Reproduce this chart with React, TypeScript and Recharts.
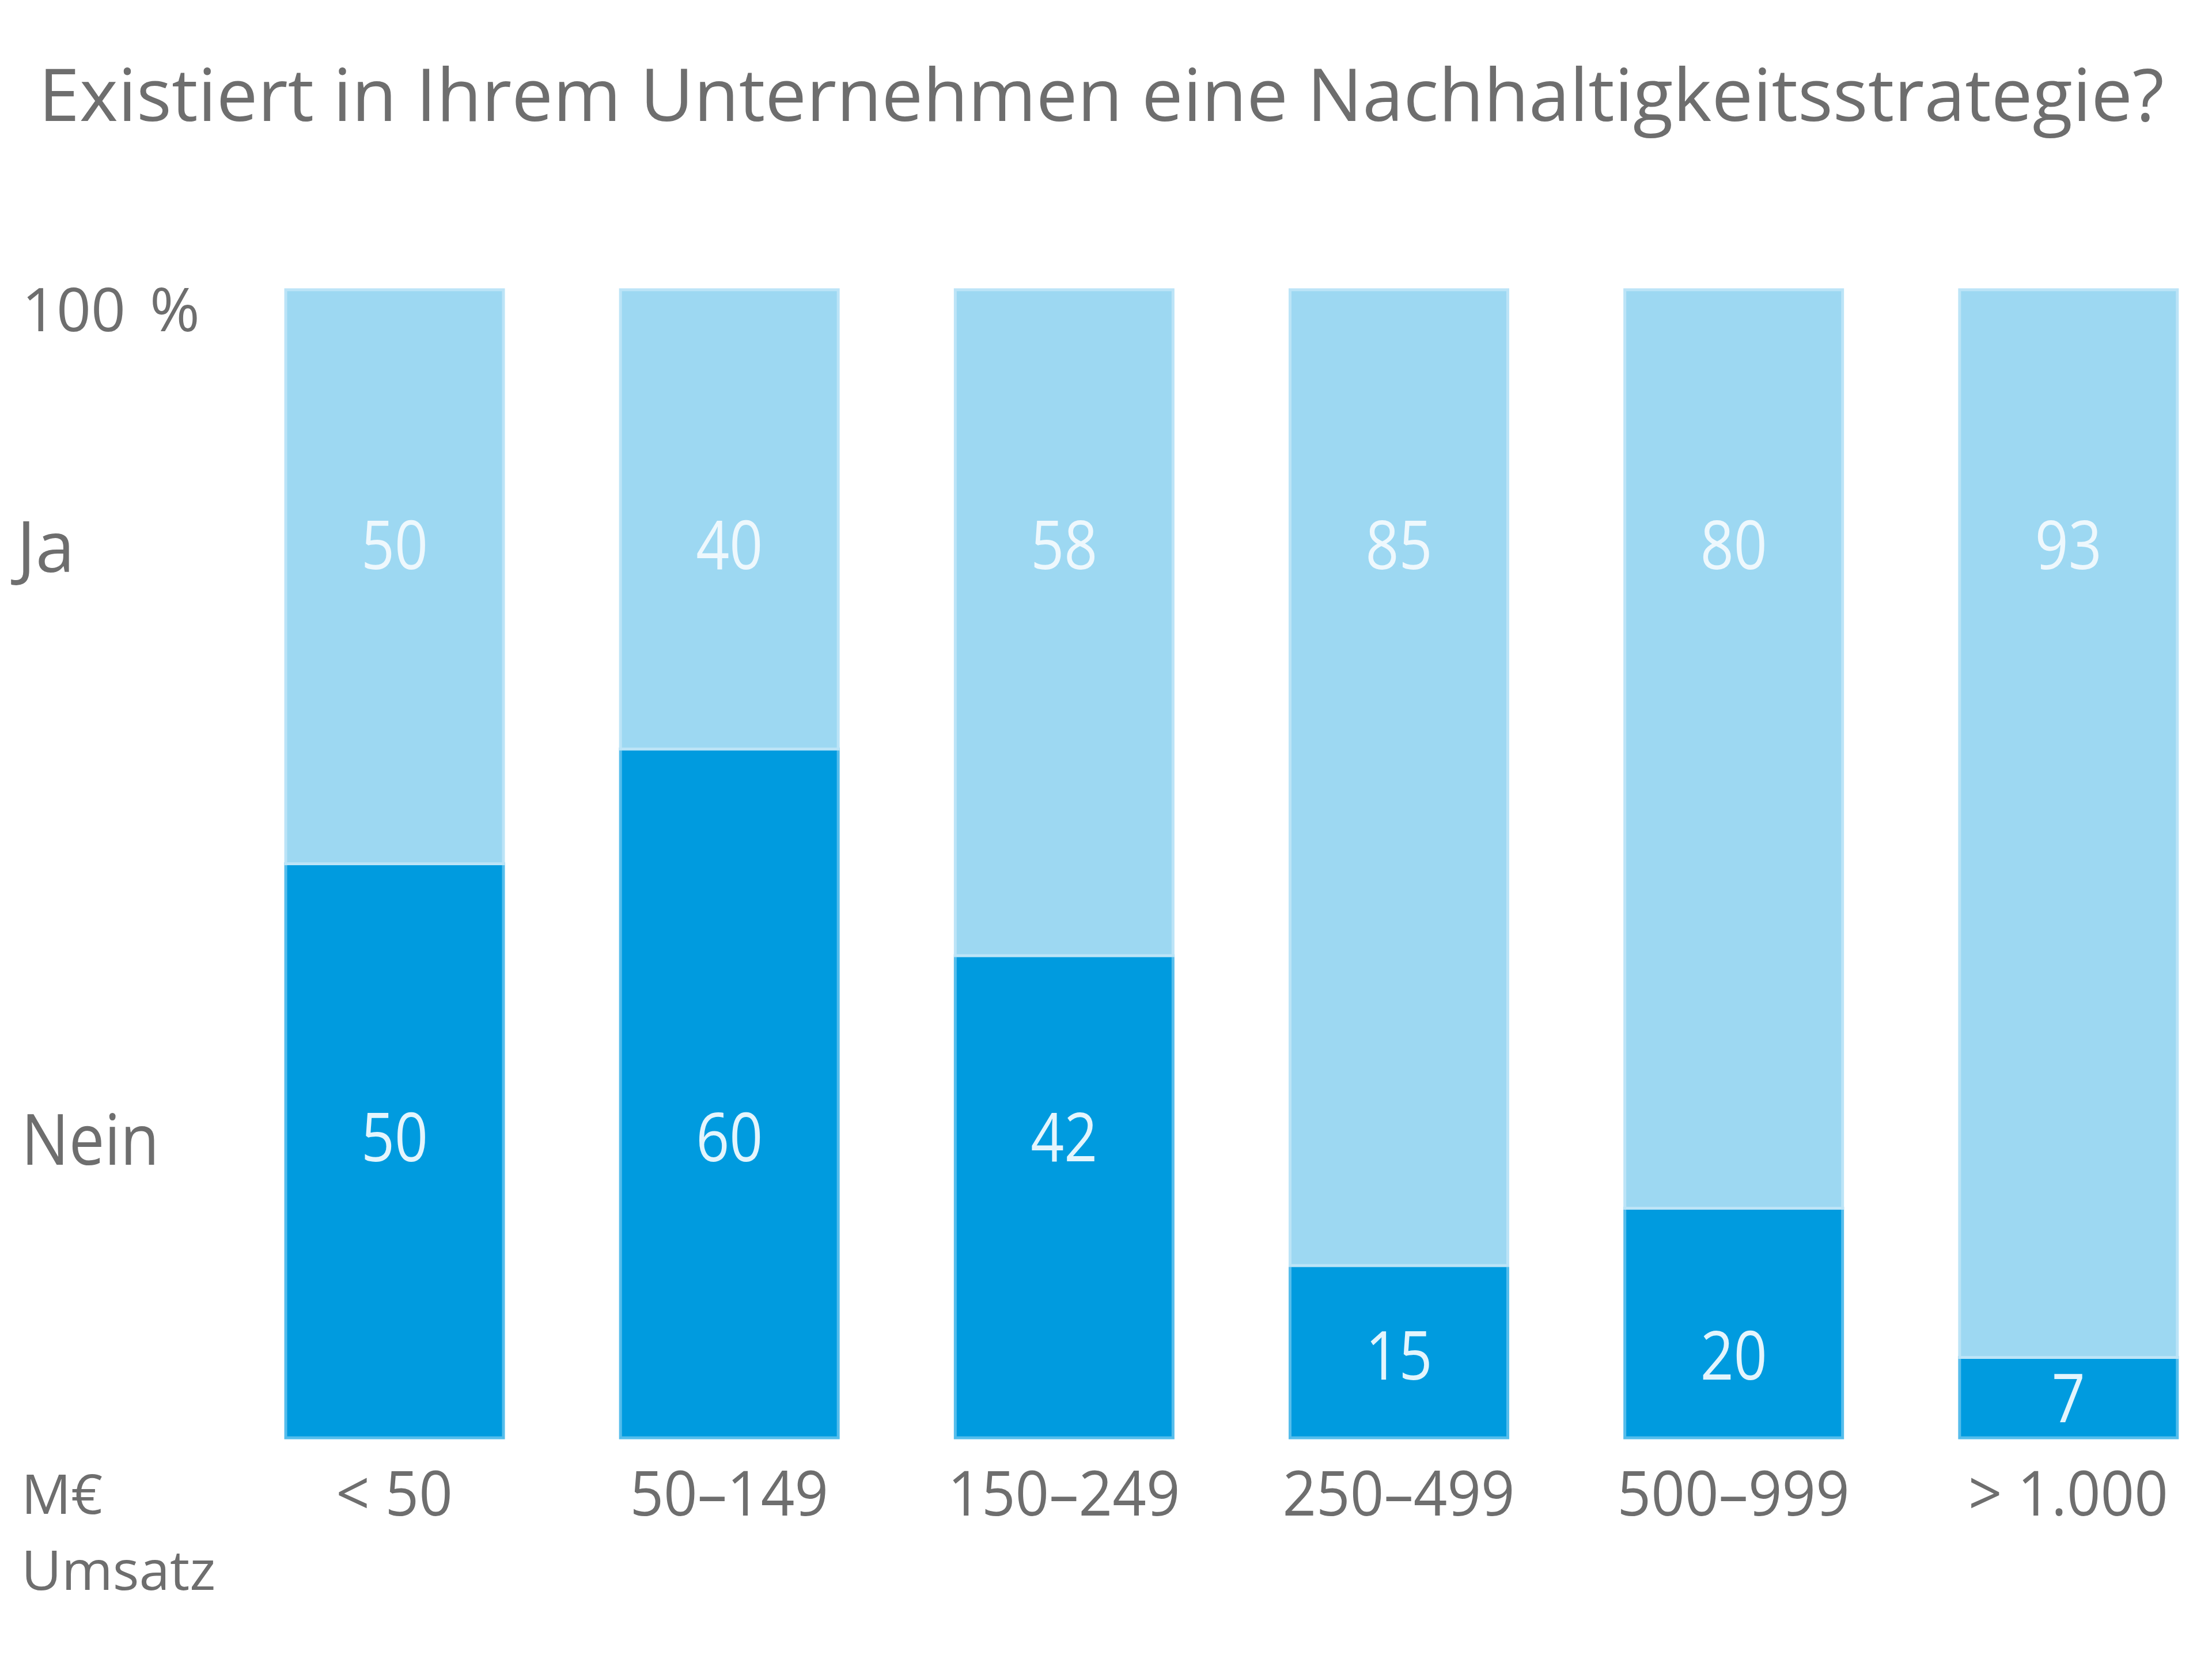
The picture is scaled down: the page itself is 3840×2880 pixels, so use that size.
import React from 'react';
import { BarChart, Bar, XAxis, YAxis, LabelList, Customized } from 'recharts';

// ---- data ----
const categories = ['< 50', '50–149', '150–249', '250–499', '500–999', '> 1.000'];
const neinValues = [50, 60, 42, 15, 20, 7];
const jaValues = [50, 40, 58, 85, 80, 93];
const seriesNames = ['Nein', 'Ja'];
const yTopLabel = ['100', '%'];
const unitLabels = ['M€', 'Umsatz'];
const titleText = 'Existiert in Ihrem Unternehmen eine Nachhaltigkeitsstrategie?';

const data = categories.map((c, i) => ({ category: c, nein: neinValues[i], ja: jaValues[i] }));

// ---- layout ----
const W = 3900;
const H = 2864;
const M = { top: 495, right: 27, bottom: 176, left: 386 };
const XAXIS_H = 200;
const PLOT_BOTTOM = H - M.bottom - XAXIS_H;

const FONT = "'Open Sans', 'Noto Sans', sans-serif";
const TEXT = '#6e6e6e';
const DARK = '#009bdf';
const LIGHT = '#9dd8f2';

type CTextProps = {
  x: number; y: number; sx?: number; size: number; fill?: string;
  anchor?: 'start' | 'middle' | 'end'; dy?: string; children: React.ReactNode;
};

const CText = ({ x, y, sx = 1, size, fill = TEXT, anchor = 'start', dy, children }: CTextProps) => (
  <g transform={`translate(${x},${y}) scale(${sx},1)`}>
    <text x={0} y={0} dy={dy} textAnchor={anchor} fontFamily={FONT} fontSize={size} fill={fill}>
      {children}
    </text>
  </g>
);

const renderJaLabel = (props: any) => {
  const { x, y, width, height, value } = props;
  const h = Math.abs(Number(height));
  const fullH = (h * 100) / Number(value);
  const cy = Number(y) + 0.222 * fullH;
  return (
    <CText x={Number(x) + Number(width) / 2} y={cy} dy="0.36em" anchor="middle" sx={0.86}
      size={118} fill="#eef8fd">{value}</CText>
  );
};

const renderNeinLabel = (props: any) => {
  const { x, y, width, height, value } = props;
  const h = Math.abs(Number(height));
  const v = Number(value);
  const fullH = (h * 100) / v;
  const bottom = Number(y) + h;
  const cy = v >= 30 ? bottom - 0.262 * fullH : bottom - Math.min(0.072 * fullH, h / 2);
  return (
    <CText x={Number(x) + Number(width) / 2} y={cy} dy="0.36em" anchor="middle" sx={0.86}
      size={118} fill="#e4f5fd">{value}</CText>
  );
};

const renderTick = (props: any) => {
  const { x, payload } = props;
  return (
    <CText x={Number(x)} y={PLOT_BOTTOM + 135} anchor="middle" sx={0.95} size={108}>
      {payload.value}
    </CText>
  );
};

const StaticTexts = () => (
  <g>
    <text x={59} y={202} fontFamily={FONT} fill={TEXT} fontSize={126} textLength={3690}
      lengthAdjust="spacingAndGlyphs">{titleText}</text>
    <text x={30} y={567} fontFamily={FONT} fill={TEXT} fontSize={105}>
      <tspan>{yTopLabel[0]}</tspan>
      <tspan x={252}>{yTopLabel[1]}</tspan>
    </text>
    <CText x={21} y={985} size={122}>{seriesNames[1]}</CText>
    <CText x={29} y={2014} size={122} sx={0.9}>{seriesNames[0]}</CText>
    <CText x={29} y={PLOT_BOTTOM + 132} size={96}>{unitLabels[0]}</CText>
    <CText x={29} y={PLOT_BOTTOM + 264} size={96}>{unitLabels[1]}</CText>
  </g>
);

export default function App() {
  return (
    <div style={{ width: 3824, height: H, overflow: 'hidden', background: '#ffffff' }}>
      <BarChart width={W} height={H} data={data} margin={M} barSize={378}>
        <XAxis dataKey="category" height={XAXIS_H} axisLine={false} tickLine={false}
          tickSize={0} tickMargin={0} interval={0} tick={renderTick} />
        <YAxis hide domain={[0, 100]} />
        <Bar dataKey="nein" name={seriesNames[0]} stackId="a" fill={DARK} stroke="#55bdec" strokeWidth={5} isAnimationActive={false}>
          <LabelList dataKey="nein" content={renderNeinLabel} />
        </Bar>
        <Bar dataKey="ja" name={seriesNames[1]} stackId="a" fill={LIGHT} stroke="#bce4f7" strokeWidth={5} isAnimationActive={false}>
          <LabelList dataKey="ja" content={renderJaLabel} />
        </Bar>
        <Customized component={StaticTexts} />
      </BarChart>
    </div>
  );
}
